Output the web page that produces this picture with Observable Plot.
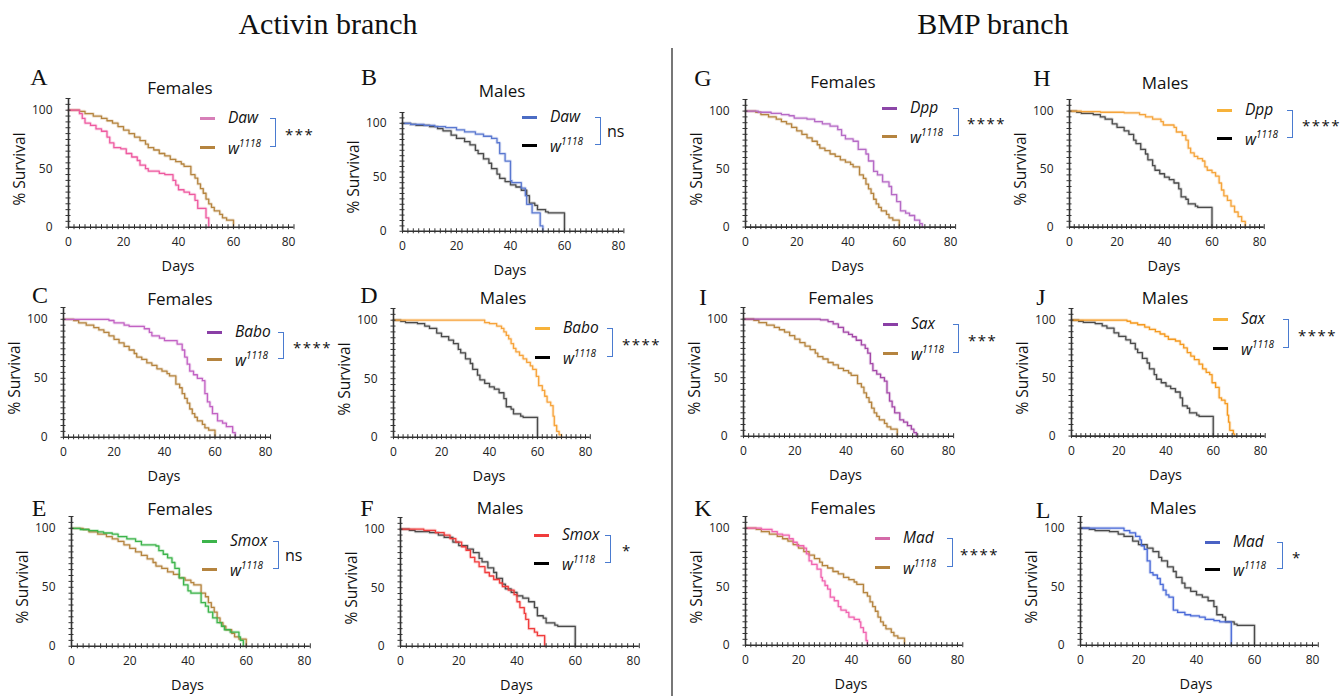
<!DOCTYPE html>
<html><head><meta charset="utf-8">
<script src="https://cdn.jsdelivr.net/npm/d3@7"></script>
<script src="https://cdn.jsdelivr.net/npm/@observablehq/plot@0.6"></script>
<style>
body{margin:0;background:#fff;}
#fig{position:relative;width:1343px;height:696px;overflow:hidden;font-family:"Open Sans",sans-serif;color:#111;}
.abs{position:absolute;white-space:nowrap;line-height:1;}
.head{font-family:"Liberation Serif",serif;font-size:30px;transform:translate(-50%,-50%);}
.letter{font-family:"Liberation Serif",serif;font-size:24px;transform:translate(-50%,-50%);}
.title{font-size:17px;transform:translate(-50%,-50%);}
.ylab{font-size:15.5px;transform:translate(-50%,-50%) rotate(-90deg);}
.xlab{font-size:14.5px;transform:translate(-50%,-50%);}
.leg{font-size:15.5px;font-style:italic;transform:translateY(-50%);}
.leg sup{font-size:10px;vertical-align:7px;}
.stars{font-size:15px;letter-spacing:1.5px;transform:translateY(-40%);}
.ns{font-size:16px;transform:translateY(-50%);}
svg.plot{overflow:visible;}
</style></head><body><div id="fig"></div><script>
// ---------- data: Kaplan-Meier step points [day, % survival] ----------
const femaleW1118 = [[0,100],[4,99],[6,97],[9,95],[12,93],[14,91],[16,89],[18,86],[20,83],[22,80],[24,77],[26,74],[28,71],[29,68],[31,66],[33,63],[35,61],[37,58],[39,56],[41,54],[42,52],[44.5,45],[46,42],[47,37],[48,33],[49,29],[50,24],[51,20],[52,17],[53,14],[55,11],[56,8],[57.5,6],[60,0]];
const maleW1118 = [[0,100],[3,99],[5,98],[10,97],[13,95],[15,93],[18,89],[20,86],[23,83],[25,80],[27,75],[28,72],[30,67],[32,63],[33,58],[35,53],[36,49],[38,46],[40,43],[42,41],[44,38],[46,33],[47,26],[49,24],[50,20],[53,18],[54,17],[60,0]];
const dawFemale = [[0,100],[4,97],[5,93],[6,89],[8,87],[10,84],[12,82],[14,77],[15,72],[16.5,68],[19,67],[21,63],[23,60],[25,57],[26,53],[28,50],[29,48],[33,46],[35,45],[38,40],[39,36],[40,32],[42,30],[44,28],[46,23],[47,16],[50,8],[51,0]];
const dawMale = [[0,100],[3,99],[8,98],[12,97],[16,96],[20,94],[23,92],[27,90],[30,88],[33,86],[35,82],[36,72],[38,65],[40,47],[40.5,45],[44,40],[45.5,33],[46,25],[48,17],[51,5],[52,0]];
const baboFemale = [[0,100],[18,99],[20,97],[24,95],[26,94],[32,92],[34,89],[35,86],[38,84],[40,82],[45,79],[47,74],[48,68],[49,62],[50,56],[51.5,53],[53,50],[55,48],[56,37],[57,30],[58,26],[59,20],[61,14],[63,12],[64.5,9],[67,4],[68,0]];
const baboMale = [[0,100],[38,98],[40,97],[43,95],[45,93],[46,90],[47,87],[48,84],[49,80],[50,76],[51,73],[52.5,70],[54,67],[55.5,64],[57,61],[58,58],[59.5,52],[60.5,44],[62,40],[63,35],[64,30],[65.5,27],[66.5,18],[67,10],[68,5],[69,2],[70,0]];
const smoxFemale = [[0,100],[3,99],[6,98],[9,97],[11,96],[14,95],[16,93],[19,91],[22,89],[24,86],[29,85],[30,81],[31.5,78],[33,75],[34.5,71],[35.5,66],[37,58],[38.5,52],[40,47],[41,45],[44.5,37],[46,34],[47,29],[48.5,24],[50,20],[51.5,17],[52.5,14],[54.5,12],[57.5,8],[58,5],[59,0]];
const smoxMale = [[0,100],[8,99],[12,97],[15,95],[17,92],[19,89],[21,85],[22.5,82],[24,76],[25.5,72],[27,68],[29,63],[30.5,60],[32,57],[34,54],[35,51],[37,48],[39,44],[40,38],[41,33],[42.5,28],[43,23],[44,15],[46,12],[47,9],[49.5,0]];
const dppFemale = [[0,100],[5,99],[10,98],[14,97],[17,96],[19,94],[24,93],[27,91],[30,89],[33,87],[36,84],[37.5,79],[39,76],[42,74],[44,67],[47,63],[48,57],[50,48],[51.5,45],[53.5,39],[56,35],[57,28],[59,22],[60.5,14],[62.5,12],[64,10],[66,6],[68,3],[69,0]];
const dppMale = [[0,100],[5,99.5],[13,99],[23,98.5],[29.5,97],[32,95],[35,93],[38.5,91],[39.5,88],[44,86],[45,82],[47.5,79],[49,75],[50,68],[51,64],[52.5,61],[54,59],[56,57],[57,52],[58,49],[60,47],[61.5,44],[63,38],[64,32],[65,27],[66.5,23],[68,18],[69.5,13],[71,9],[72.5,5],[74,0]];
const saxFemale = [[0,100],[30,99.5],[33,98],[35,96],[37,93],[39,89],[41,87],[42.5,85],[44,82],[46,78],[47.5,75],[48.5,71],[49.5,62],[50.5,56],[52,53],[53.5,50],[55,47],[56,37],[57,30],[58,25],[59,20],[61,14],[62.5,12],[64,9],[65.5,6],[66.5,3],[67.5,0]];
const saxMale = [[0,100],[23.5,99],[25,97.5],[28,96],[31,94],[33,92],[35.5,90],[37.5,88],[39.5,86],[41,83.5],[44,82],[46,79],[47.5,76],[49,72],[50.5,69],[52,66],[54,62],[55.5,58],[57,55],[58.5,53],[59.5,46],[61,42],[62.5,33],[63.5,31],[65,28],[66,18],[66.5,12],[67,5],[68.5,2],[69,0]];
const madFemale = [[0,100],[6,99],[10,97],[12,95],[14,94],[16.5,91],[18,88],[19.5,85],[22,83],[23,78],[24,72],[25,69],[27,65],[28.5,58],[29,55],[30,51],[31,48],[32,41],[33.5,38],[35,33],[36,30],[38,28],[39,24],[41,22],[43,20],[43.5,15],[44.5,11],[45.5,4],[46,0]];
const madMale = [[0,100],[15,98],[17,96],[19,93],[20.5,90],[21,85],[22,82],[23,72],[24,62],[25,60],[26.5,57],[27.5,52],[28.5,47],[29.5,43],[30.5,41],[32,30],[33.5,28],[36,26],[38,25],[41,24],[43,22],[46,21],[48,20],[52,0]];

const xMajor = [0, 20, 40, 60, 80];
const xMinor = d3.range(0, 83, 2);
const yMajor = [0, 50, 100];
const yMinor = d3.range(0, 111, 5);

const panelLetters = ["A","B","C","D","E","F","G","H","I","J","K","L"];
const genes = ["Daw","Daw","Babo","Babo","Smox","Smox","Dpp","Dpp","Sax","Sax","Mad","Mad"];
const sexes = ["Females","Males","Females","Males","Females","Males","Females","Males","Females","Males","Females","Males"];
const significance = ["***","ns","****","****","ns","*","****","****","***","****","****","*"];
const mutants = [dawFemale,dawMale,baboFemale,baboMale,smoxFemale,smoxMale,dppFemale,dppMale,saxFemale,saxMale,madFemale,madMale];

// ---------- styles ----------
const mutantColors = ["#ee5aa0","#5a78d0","#c262c4","#f7a33a","#3cb44b","#f03c3c","#b66ac6","#f5a43a","#a448a8","#f59a20","#f064b0","#4a6ad8"];
const legendColors = ["#d77fb8","#4b6cc4","#8a3fa6","#f7b23a","#3cb44b","#f03c3c","#8c46a8","#f7b23a","#8a3fa6","#f7b23a","#d46aa8","#4a62c4"];
const ctrlFemaleColor = "#b5843f";
const ctrlMaleColor = "#4a4a4a";
const bracketColor = "#4a7bd0";

// ---------- layout (pixel geometry per panel) ----------
const layout = [
 {x0:68,  x80:288,  y0:227, y100:110, tx:180,  ty:87,  lx:39,   ly:77,  gx:200,  g1:118, g2:147, bx:270,  sx:285},
 {x0:402, x80:618,  y0:231, y100:123, tx:502,  ty:90,  lx:369,  ly:77,  gx:522,  g1:117, g2:145, bx:595,  sx:607},
 {x0:63,  x80:265,  y0:437, y100:319, tx:180,  ty:298, lx:40,   ly:295, gx:207,  g1:332, g2:359, bx:278,  sx:293},
 {x0:393, x80:585,  y0:437, y100:320, tx:503,  ty:297, lx:369,  ly:295, gx:535,  g1:328, g2:357, bx:607,  sx:622},
 {x0:71,  x80:304,  y0:646, y100:528, tx:180,  ty:508, lx:39,   ly:508, gx:202,  g1:541, g2:569, bx:273,  sx:285},
 {x0:400, x80:633,  y0:646, y100:529, tx:500,  ty:507, lx:367,  ly:508, gx:534,  g1:535, g2:563, bx:605,  sx:622},
 {x0:745, x80:950,  y0:227, y100:111, tx:843,  ty:81,  lx:703,  ly:78,  gx:882,  g1:108, g2:136, bx:953,  sx:967},
 {x0:1069,x80:1259, y0:227, y100:111, tx:1165, ty:82,  lx:1042, ly:78,  gx:1217, g1:110, g2:138, bx:1287, sx:1302},
 {x0:743, x80:948,  y0:436, y100:319, tx:841,  ty:297, lx:703,  ly:297, gx:883,  g1:324, g2:353, bx:953,  sx:968},
 {x0:1071,x80:1260, y0:436, y100:320, tx:1165, ty:297, lx:1041, ly:297, gx:1213, g1:319, g2:348, bx:1283, sx:1298},
 {x0:745, x80:957,  y0:645, y100:528, tx:843,  ty:507, lx:703,  ly:508, gx:875,  g1:538, g2:567, bx:947,  sx:960},
 {x0:1080,x80:1312, y0:645, y100:528, tx:1173, ty:507, lx:1043, ly:510, gx:1205, g1:542, g2:569, bx:1277, sx:1292}
];

const fig = document.getElementById("fig");
function addDiv(cls, html, left, top, extra) {
  const d = document.createElement("div");
  d.className = "abs " + cls;
  d.innerHTML = html;
  d.style.left = left + "px";
  d.style.top = top + "px";
  if (extra) Object.assign(d.style, extra);
  fig.appendChild(d);
  return d;
}

// headings and divider
addDiv("head", "Activin branch", 328, 24);
addDiv("head", "BMP branch", 993, 24);
addDiv("", "", 671, 48, {width:"1.5px", height:"650px", background:"#777"});

layout.forEach((p, i) => {
  const female = sexes[i] === "Females";
  const control = female ? femaleW1118 : maleW1118;
  const ctrlColor = female ? ctrlFemaleColor : ctrlMaleColor;
  const mutant = mutants[i];
  const mColor = mutantColors[i];
  const ML = 50, MR = 6, MT = 4, MB = 30;
  const plotW = (p.x80 - p.x0) * 82 / 80;
  const plotH = (p.y0 - p.y100) * 1.1;
  const X = d => d[0], Y = d => d[1];
  const chart = Plot.plot({
    width: ML + plotW + MR,
    height: MT + plotH + MB,
    marginLeft: ML, marginRight: MR, marginTop: MT, marginBottom: MB,
    x: {domain: [0, 82]},
    y: {domain: [0, 110]},
    style: {fontFamily: "Open Sans", fontSize: "12px", color: "#222", background: "transparent"},
    marks: [
      Plot.line(control, {x: X, y: Y, curve: "step-after", stroke: ctrlColor, strokeWidth: 3.2, strokeOpacity: 0.22}),
      Plot.line(control, {x: X, y: Y, curve: "step-after", stroke: ctrlColor, strokeWidth: 1.3}),
      Plot.line(mutant, {x: X, y: Y, curve: "step-after", stroke: mColor, strokeWidth: 3.2, strokeOpacity: 0.22}),
      Plot.line(mutant, {x: X, y: Y, curve: "step-after", stroke: mColor, strokeWidth: 1.3}),
      Plot.ruleY([0], {stroke: "#333", strokeWidth: 1.6}),
      Plot.ruleX([0], {stroke: "#333", strokeWidth: 1.6}),
      Plot.axisX({ticks: xMinor, tickSize: 5, dy: -2.5, tickFormat: () => "", label: null, stroke: "#333"}),
      Plot.axisX({ticks: xMajor, tickSize: 0, tickPadding: 10, label: null}),
      Plot.axisY({ticks: yMinor, tickSize: 5, dx: 2.5, tickFormat: () => "", label: null, stroke: "#333"}),
      Plot.axisY({ticks: yMajor, tickSize: 0, tickPadding: 16, label: null})
    ]
  });
  chart.style.position = "absolute";
  chart.style.left = (p.x0 - ML) + "px";
  chart.style.top = (p.y0 - plotH - MT) + "px";
  fig.appendChild(chart);

  addDiv("letter", panelLetters[i], p.lx, p.ly);
  addDiv("title", sexes[i], p.tx, p.ty);
  addDiv("xlab", "Days", (p.x0 + p.x80) / 2, p.y0 + 39);
  addDiv("ylab", "% Survival", p.x0 - 48, (p.y0 + p.y100) / 2);
  // legend
  addDiv("", "", p.gx, p.g1 - 1.5, {width: "15px", height: "3px", background: legendColors[i]});
  addDiv("", "", p.gx, p.g2 - 1.5, {width: "15px", height: "3px", background: female ? ctrlColor : "#000"});
  addDiv("leg", genes[i], p.gx + 28, p.g1);
  addDiv("leg", "w<sup>1118</sup>", p.gx + 28, p.g2);
  addDiv("", "", p.bx, p.g1, {width: "6px", height: (p.g2 - p.g1) + "px", border: "1.3px solid " + bracketColor, borderLeft: "none", boxSizing: "border-box"});
  const sig = significance[i];
  addDiv(sig === "ns" ? "ns" : "stars", sig, p.sx, (p.g1 + p.g2) / 2);
});
</script></body></html>
